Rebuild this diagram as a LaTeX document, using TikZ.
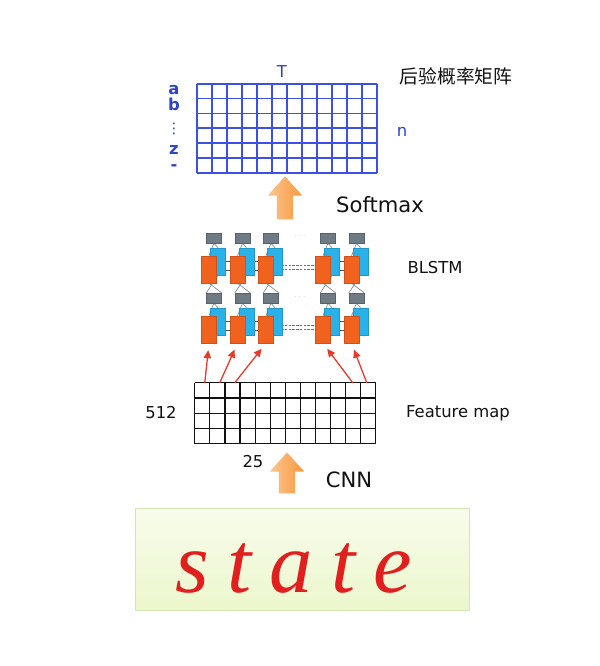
\documentclass[tikz,border=0pt]{standalone}
\usepackage{fontspec}
\setmainfont{DejaVu Sans}
\newfontfamily\cjk{Noto Sans CJK SC}
\newfontfamily\wordfont{Liberation Serif}
\usetikzlibrary{arrows.meta,positioning,calc,backgrounds,shapes.arrows}
\definecolor{ink}{HTML}{111111}
\definecolor{postblue}{HTML}{3D50E6}
\definecolor{labelblue}{HTML}{2E45C8}
\definecolor{fwcol}{HTML}{F2621F}
\definecolor{bwcol}{HTML}{29B2EA}
\definecolor{outcol}{HTML}{6E7A84}
\definecolor{wiregray}{HTML}{8A9096}
\definecolor{feedred}{HTML}{E8392B}
\definecolor{liftlight}{HTML}{FCC58E}
\definecolor{liftdark}{HTML}{F7993F}
\definecolor{boxtop}{HTML}{F8FCEC}
\definecolor{boxbottom}{HTML}{ECF7CC}
\definecolor{boxline}{HTML}{D4E6B4}
\definecolor{wordred}{HTML}{E01F1E}

\begin{document}
\begin{tikzpicture}[
  x=0.03cm, y=-0.03cm, ink,
  postline/.style={draw=postblue, line width=1.4pt},
  mapline/.style={draw=ink, line width=1.0pt},
  symlabel/.style={text=labelblue, font=\fontsize{14}{16}\selectfont, inner sep=0pt},
  symbold/.style={symlabel, font=\fontsize{14}{16}\selectfont\bfseries},
  note/.style={text=ink, font=\fontsize{14}{16}\selectfont, inner sep=0pt},
  bignote/.style={text=ink, font=\fontsize{18}{20}\selectfont, inner sep=0pt},
  outcell/.style={fill=outcol, draw=outcol!80!black, line width=0.3pt,
                  minimum width=0.45cm, minimum height=0.3cm, inner sep=0pt},
  fwcell/.style={fill=fwcol, draw=fwcol!85!black, line width=0.3pt,
                 minimum width=0.45cm, minimum height=0.81cm, inner sep=0pt},
  bwcell/.style={fill=bwcol, draw=bwcol!85!black, line width=0.3pt,
                 minimum width=0.45cm, minimum height=0.81cm, inner sep=0pt},
  wire/.style={draw=wiregray, line width=0.6pt},
  link/.style={draw=ink!75, line width=0.8pt},
  gaplink/.style={draw=ink!60, line width=0.8pt, dash pattern=on 2pt off 1.2pt},
  feed/.style={draw=feedred, line width=1.1pt, -{Triangle[length=2.4mm, width=2.2mm]},
               shorten >=6pt},
  liftarrow/.style={single arrow, shape border rotate=90, draw=none,
                    left color=liftlight, right color=liftdark,
                    minimum width=1.02cm, single arrow head extend=0.27cm,
                    single arrow tip angle=84, inner sep=0pt},
  inputbox/.style={top color=boxtop, bottom color=boxbottom, draw=boxline,
                   line width=0.8pt, minimum width=10.02cm, minimum height=3.06cm,
                   inner sep=0pt},
]
\useasboundingbox (0,0) rectangle (600,666);

% ---- posterior probability matrix -------------------------------------------
\node[inner sep=0pt, minimum width=5.4cm, minimum height=2.67cm] (post) at (287,128.5) {};
\foreach \i in {0,...,12}
  \draw[postline] ($(post.north west)+(\i*15,0)$) -- ($(post.south west)+(\i*15,0)$);
\foreach \j in {0,...,6}
  \draw[postline] ($(post.north west)+(0,\j*89/6)$) -- ($(post.north east)+(0,\j*89/6)$);

\node[symlabel] (tlab) at (282,72) {T};
\node[symbold] (syma) at (174,90) {a};
\node[symbold] (symb) at (174,104) {b};
\node[symlabel, font=\fontsize{12.5}{13}\selectfont] (symdots) at (174,129) {⋮};
\node[symbold] (symz) at (174,150) {z};
\node[symbold] (symblank) at (174,168) {-};
\node[symlabel] (nlab) at (402,132) {n};
\node[note, font=\cjk\fontsize{16}{18}\selectfont] (postname) at (456,76) {后验概率矩阵};

% ---- softmax -----------------------------------------------------------------
\node[liftarrow, minimum height=1.29cm] (softup) at (285,202.5) {\phantom{\rule{0.48cm}{0.48cm}}};
\node[bignote] (softname) at (380,205) {Softmax};

% ---- bidirectional LSTM ------------------------------------------------------
\foreach \c/\x in {1/214,2/242.5,3/271,4/328,5/356.5} {
  \node[outcell] (out1-\c) at (\x,238) {};
  \node[bwcell]  (bw1-\c)  at (\x+4,261.5) {};
  \node[fwcell]  (fw1-\c)  at (\x-5,269.5) {};
  \node[outcell] (out2-\c) at (\x,298) {};
  \node[bwcell]  (bw2-\c)  at (\x+4,321.5) {};
  \node[fwcell]  (fw2-\c)  at (\x-5,329.5) {};
}
\begin{scope}[on background layer]
  \foreach \c in {1,...,5} {
    \foreach \L in {1,2} {
      \draw[wire] (fw\L-\c.north) -- (out\L-\c.south);
      \draw[wire] (bw\L-\c.north) -- (out\L-\c.south);
    }
    \draw[wire] (fw1-\c.south) -- (out2-\c.north east);
    \draw[wire] (bw1-\c.south) -- (out2-\c.north west);
  }
  \foreach \c/\d in {1/2,2/3,4/5} {
    \foreach \L in {1,2} {
      \draw[link] ($(fw\L-\c.east)+(0,1)$) -- ($(fw\L-\d.west)+(0,1)$);
      \draw[link] (bw\L-\c.east) -- (bw\L-\d.west);
    }
  }
  \foreach \L in {1,2} {
    \draw[gaplink] (fw\L-3.east) -- (fw\L-4.west);
    \draw[gaplink] ($(fw\L-3.east)+(0,-4)$) -- ($(fw\L-4.west)+(0,-4)$);
  }
\end{scope}
\node[text=ink!60, font=\tiny, inner sep=0pt] (dots1) at (300,236) {$\cdots$};
\node[text=ink!60, font=\tiny, inner sep=0pt] (dots2) at (300,297) {$\cdots$};
\node[note] (lstmname) at (435,268) {BLSTM};

% ---- feature map -------------------------------------------------------------
\node[inner sep=0pt, minimum width=5.43cm, minimum height=1.83cm] (fmap) at (285.5,413.5) {};
\foreach \i in {0,...,12}
  \draw[mapline] ($(fmap.north west)+(\i*181/12,0)$) -- ($(fmap.south west)+(\i*181/12,0)$);
\foreach \j in {0,...,4}
  \draw[mapline] ($(fmap.north west)+(0,\j*61/4)$) -- ($(fmap.north east)+(0,\j*61/4)$);

\coordinate (fm1) at ($(fmap.north west)+(10,0)$);
\coordinate (fm2) at ($(fmap.north west)+(25,0)$);
\coordinate (fm3) at ($(fmap.north west)+(40,0)$);
\coordinate (fm4) at ($(fmap.north west)+(158,0)$);
\coordinate (fm5) at ($(fmap.north west)+(172,0)$);
\foreach \c in {1,...,5}
  \draw[feed] (fm\c) -- (fw2-\c.south);

\node[note] (depth) at (161,413) {512};
\node[note] (width) at (253,462) {25};
\node[note] (mapname) at (458,413) {Feature map};

% ---- CNN ---------------------------------------------------------------------
\node[liftarrow, minimum height=1.23cm] (cnnup) at (287,477.5) {\phantom{\rule{0.48cm}{0.48cm}}};
\node[bignote] (cnnname) at (349,480) {CNN};

% ---- input image -------------------------------------------------------------
\node[inputbox] (input) at (302,559) {};
\node[anchor=base, text=wordred, font=\wordfont\itshape\fontsize{74}{76}\selectfont]
  (word) at (294,592) {s\kern15.5pt t\kern15.5pt a\kern15.5pt t\kern15.5pt e};

\end{tikzpicture}
\end{document}
